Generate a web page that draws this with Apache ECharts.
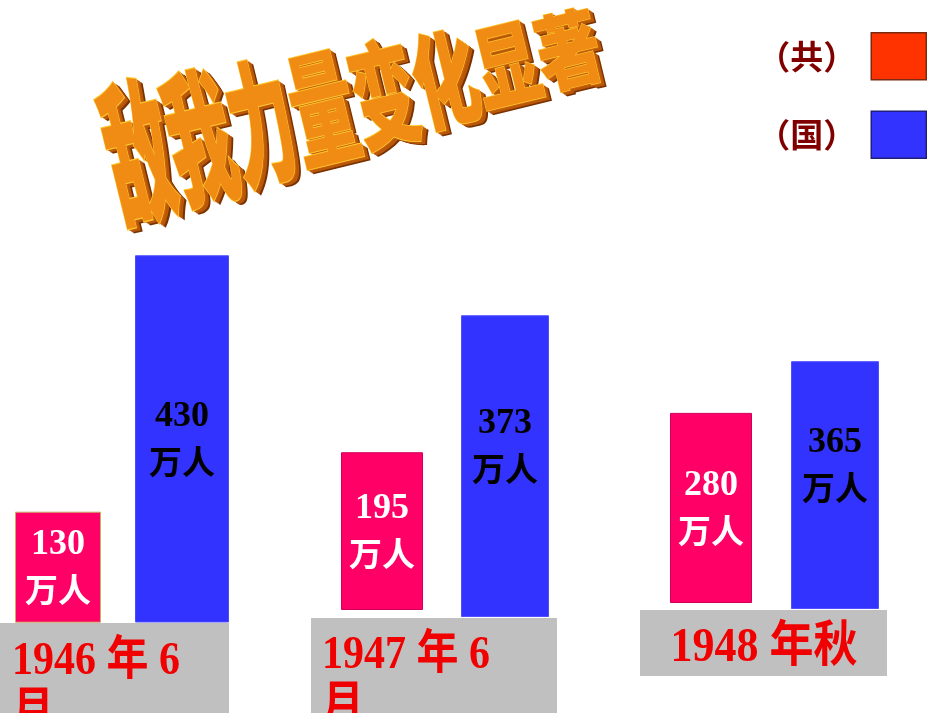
<!DOCTYPE html>
<html><head><meta charset="utf-8">
<script src="https://cdn.jsdelivr.net/npm/echarts@6/dist/echarts.min.js"></script>
<style>html,body{margin:0;padding:0;background:#fff}#c{width:950px;height:713px}</style>
</head><body><div id="c"></div>
<script>
// ---- data ----
const titleText = '敌我力量变化显著';
const periods = ['1946 年 6\n月', '1947 年 6\n月', '1948 年秋'];
const seriesNames = ['（共）', '（国）'];
const gongValues = [130, 195, 280];
const guoValues = [430, 373, 365];
const unitLabel = '万人';

// ---- layout (not data) ----
const groupScale = [0.854, 0.809, 0.679];   // px per unit in each group
const barLayout = [                          // [left, width, baselineY]
  [[15, 86, 622.7], [135, 94, 622.5]],
  [[341, 82, 610], [461, 88, 617]],
  [[670, 82, 603], [791, 88, 609]]
];
const boxLayout = [[0, 623, 229, 95], [311, 618, 246, 100], [640, 610, 247, 66]];
const H = 713;

const barColors = ['#FF0066', '#3333FF'];
const barBorders = [['#C8B060', '#4D4DFF'], ['#D0005A', '#5050FF'], ['#D0005A', '#5050FF']];
const legendColors = ['#FF3300', '#3333FF'];
const legendBorders = ['#7A2A10', '#20207A'];

const grids = [], xAxes = [], yAxes = [], series = [];
const valueSets = [gongValues, guoValues];
for (let g = 0; g < 3; g++) {
  for (let s = 0; s < 2; s++) {
    const idx = g * 2 + s;
    const [left, width, base] = barLayout[g][s];
    grids.push({ left: left, width: width, bottom: H - base, height: groupScale[g] * 500 });
    xAxes.push({ type: 'category', gridIndex: idx, data: [periods[g]], show: false });
    yAxes.push({ type: 'value', gridIndex: idx, min: 0, max: 500, show: false });
    const isRed = s === 0;
    const fg = isRed ? '#FFFFFF' : '#000000';
    const sh = isRed ? '#000000' : '#E8E8E8';
    series.push({
      type: 'bar', name: seriesNames[s], xAxisIndex: idx, yAxisIndex: idx,
      data: [valueSets[s][g]], barWidth: '100%',
      itemStyle: { color: barColors[s], borderColor: barBorders[g][s], borderWidth: 1 },
      label: {
        show: true, position: 'inside',
        offset: (!isRed && g > 0) ? [0, -20] : [0, 0],
        formatter: '{n|{c}}\n{u|' + unitLabel + '}',
        rich: {
          n: { fontFamily: '"Liberation Serif", serif', fontWeight: 'bold', fontSize: 36, color: fg,
               textShadowColor: sh, textShadowOffsetX: 2, textShadowOffsetY: 2, textShadowBlur: 0, lineHeight: 45 },
          u: { fontFamily: '"Noto Sans CJK SC"', fontWeight: 'bold', fontSize: 33, color: fg,
               textShadowColor: sh, textShadowOffsetX: 2, textShadowOffsetY: 2, textShadowBlur: 0, lineHeight: 45 }
        }
      }
    });
  }
}

// ---- graphics: category boxes, period labels, title ----
const graphics = [];
boxLayout.forEach((b, g) => {
  graphics.push({ type: 'rect', z: 0, shape: { x: b[0], y: b[1], width: b[2], height: b[3] }, style: { fill: '#C0C0C0' } });
});
const periodPos = [[12, 636, 'left', 42], [322, 630, 'left', 42], [764, 623, 'center', 44]];
periods.forEach((p, g) => {
  graphics.push({
    type: 'text', z: 10, x: periodPos[g][0], y: periodPos[g][1], scaleY: 1.12,
    style: {
      text: p, font: 'bold ' + periodPos[g][3] + 'px "Liberation Serif", "Noto Sans CJK SC"', fill: '#F00000',
      textAlign: periodPos[g][2], verticalAlign: 'top', lineHeight: 46,
      textShadowColor: '#300000', textShadowOffsetX: 2, textShadowOffsetY: 2, textShadowBlur: 0
    }
  });
});

const chars = titleText.split('');
chars.forEach((ch, i) => {
  const t = i / (chars.length - 1);
  const cx = 138 + t * (568 - 138);
  const cy = 152 - t * (152 - 50);
  const sy = 2.45 - t * 1.15;
  const depth = 7;
  for (let k = depth; k >= 1; k--) {
    const c = k > 5 ? '#7A3200' : (k > 2 ? '#B8580A' : '#C9620C');
    graphics.push({
      type: 'text', z: 20, x: cx + k * 0.9, y: cy + k * 0.6, rotation: 0.24, scaleY: sy,
      style: { text: ch, font: '900 64px "Noto Sans CJK SC"', fill: c, textAlign: 'center', verticalAlign: 'middle' }
    });
  }
  graphics.push({
    type: 'text', z: 21, x: cx, y: cy, rotation: 0.24, scaleY: sy,
    style: {
      text: ch, font: '900 64px "Noto Sans CJK SC"', textAlign: 'center', verticalAlign: 'middle',
      fill: '#F08C14', stroke: '#FFC830', lineWidth: 1
    }
  });
});

const chart = echarts.init(document.getElementById('c'));
chart.setOption({
  backgroundColor: '#FFFFFF',
  animation: false,
  grid: grids, xAxis: xAxes, yAxis: yAxes, series: series,
  legend: {
    orient: 'vertical', right: 18, top: 27, align: 'right',
    itemWidth: 55, itemHeight: 47, itemGap: 30, icon: 'rect', selectedMode: false,
    textStyle: { color: '#800000', fontSize: 33, fontWeight: 'bold', fontFamily: '"Noto Sans CJK SC"', padding: [0, 10, 0, 0] },
    data: seriesNames.map((n, s) => ({
      name: n, itemStyle: { color: legendColors[s], borderColor: legendBorders[s], borderWidth: 1.5 }
    }))
  },
  graphic: graphics
});
</script>
</body></html>
